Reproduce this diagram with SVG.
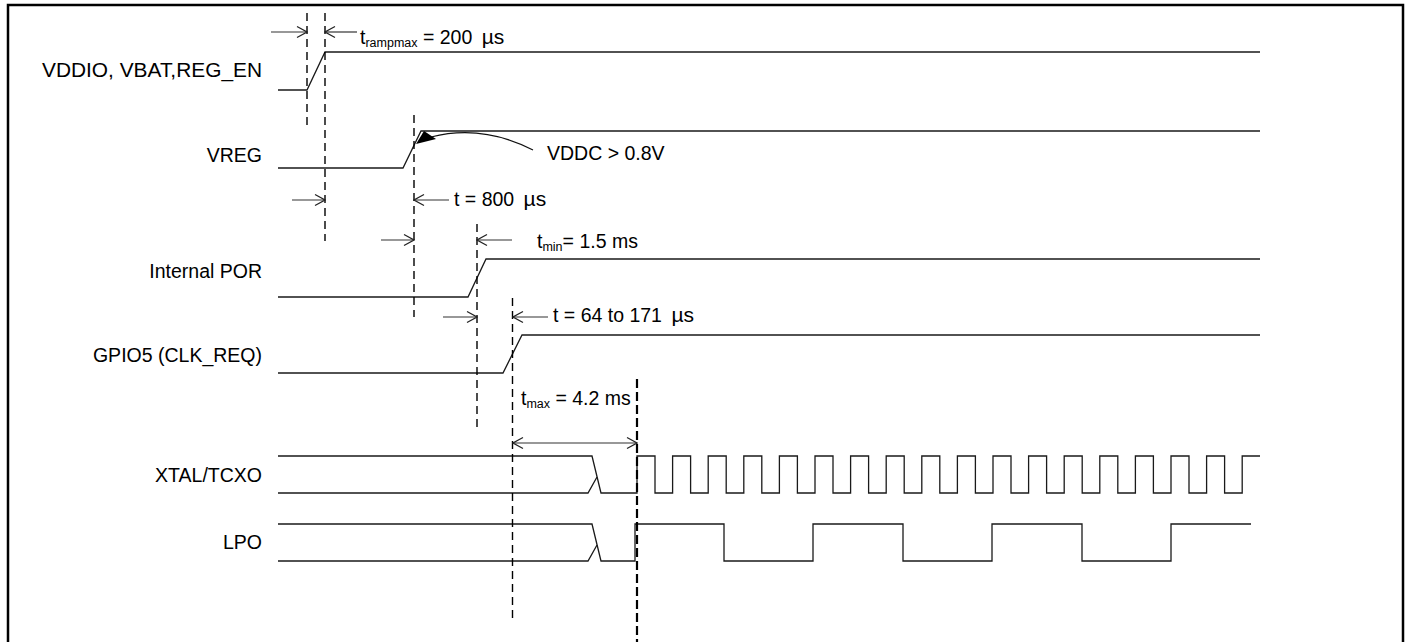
<svg xmlns="http://www.w3.org/2000/svg" width="1409" height="642" viewBox="0 0 1409 642">
<style>
text{font-family:"Liberation Sans",Arial,sans-serif;font-size:19.5px;fill:#000}
.lbl{text-anchor:end}
.sub{font-size:12.5px}
.mu{font-size:21px}
.sig{fill:none;stroke:#1a1a1a;stroke-width:1.3}
.dash{fill:none;stroke:#000;stroke-width:1.4;stroke-dasharray:8 5}
.dash2{fill:none;stroke:#000;stroke-width:2.2;stroke-dasharray:9 4}
.arr{fill:none;stroke:#333;stroke-width:1.2;marker-end:url(#oa)}
.darr{fill:none;stroke:#333;stroke-width:1.2;marker-end:url(#oa);marker-start:url(#oa)}
</style>
<defs>
<marker id="oa" viewBox="-1 -7 12 14" refX="10" refY="0" markerWidth="12" markerHeight="14" markerUnits="userSpaceOnUse" orient="auto-start-reverse">
<path d="M0,-5.5 L10,0 L0,5.5" fill="none" stroke="#222" stroke-width="1.2"/>
</marker>
</defs>
<rect x="8" y="5" width="1395" height="720" fill="none" stroke="#000" stroke-width="2.5"/>

<g id="labels">
<text class="lbl" x="262" y="77" textLength="220" lengthAdjust="spacingAndGlyphs">VDDIO, VBAT,REG_EN</text>
<text class="lbl" x="262" y="162">VREG</text>
<text class="lbl" x="262" y="278">Internal POR</text>
<text class="lbl" x="262" y="362">GPIO5 (CLK_REQ)</text>
<text class="lbl" x="262" y="482">XTAL/TCXO</text>
<text class="lbl" x="262" y="549">LPO</text>
</g>

<g id="sig-vddio"><path class="sig" d="M278,90 H307 L325,52 H1260"/></g>
<g id="sig-vreg"><path class="sig" d="M278,168 H403 L421,131 H1260"/></g>
<g id="sig-por"><path class="sig" d="M278,297 H468 L486,259 H1260"/></g>
<g id="sig-gpio5"><path class="sig" d="M278,373 H503 L522,335 H1260"/></g>
<g id="sig-xtal">
<path class="sig" d="M278,456 H592 L601,493 H637 V456 h18 V493 h17.6 V456 h18 V493 h17.6 V456 h18 V493 h17.6 V456 h18 V493 h17.6 V456 h18 V493 h17.6 V456 h18 V493 h17.6 V456 h18 V493 h17.6 V456 h18 V493 h17.6 V456 h18 V493 h17.6 V456 h18 V493 h17.6 V456 h18 V493 h17.6 V456 h18 V493 h17.6 V456 h18 V493 h17.6 V456 h18 V493 h17.6 V456 h18 V493 h17.6 V456 h18 V493 h17.6 V456 h18 V493 h17.6 V456 H1260"/>
<path class="sig" d="M278,493 H588 L597,477"/>
</g>
<g id="sig-lpo">
<path class="sig" d="M278,524 H592 L601,561 H635 V524 H724 V561 H813 V524 H903 V561 H992 V524 H1082 V561 H1171 V524 H1251"/>
<path class="sig" d="M278,561 H588 L597,545"/>
</g>

<g id="connectors">
<line class="dash" x1="307" y1="13" x2="307" y2="128"/>
<line class="dash" x1="325" y1="13" x2="325" y2="241"/>
<line class="dash" x1="414" y1="115" x2="414" y2="317"/>
<line class="dash" x1="477" y1="224" x2="477" y2="428"/>
<line class="dash" x1="512.5" y1="298" x2="512.5" y2="618"/>
<line class="dash2" x1="637" y1="379" x2="637" y2="642"/>

<line class="arr" x1="271" y1="32" x2="307" y2="32"/>
<line class="arr" x1="357" y1="32" x2="325" y2="32"/>

<line class="arr" x1="292" y1="200" x2="325" y2="200"/>
<line class="arr" x1="449" y1="200" x2="414" y2="200"/>

<line class="arr" x1="381" y1="240" x2="414" y2="240"/>
<line class="arr" x1="512" y1="240" x2="477" y2="240"/>

<line class="arr" x1="443" y1="317" x2="477" y2="317"/>
<line class="arr" x1="548" y1="317" x2="513" y2="317"/>

<line class="darr" x1="513" y1="443" x2="637" y2="443"/>

<path d="M533,150 Q482,124 431,137" fill="none" stroke="#111" stroke-width="1.2"/>
<polygon points="416,144 424,131 436,139" fill="#000"/>
</g>

<g id="annotations">
<text x="360" y="44">t<tspan class="sub" dy="3">rampmax</tspan><tspan dy="-3"> = 200 </tspan><tspan class="mu" dx="4">µs</tspan></text>
<text x="547" y="160">VDDC &gt; 0.8V</text>
<text x="454" y="206">t = 800 <tspan class="mu" dx="4">µs</tspan></text>
<text x="537" y="248">t<tspan class="sub" dy="3">min</tspan><tspan dy="-3">= 1.5 ms</tspan></text>
<text x="553" y="322">t = 64 to 171 <tspan class="mu" dx="4">µs</tspan></text>
<text x="521" y="405">t<tspan class="sub" dy="3">max</tspan><tspan dy="-3"> = 4.2 ms</tspan></text>
</g>
</svg>
